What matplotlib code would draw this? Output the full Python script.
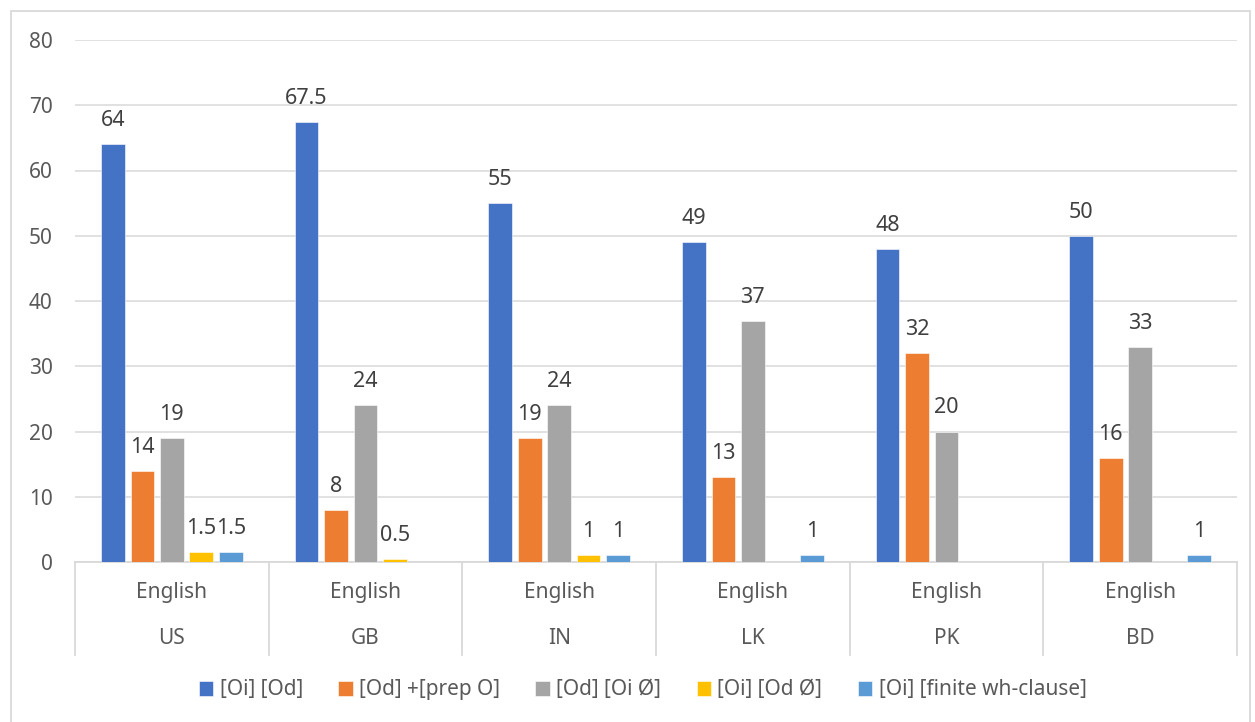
import numpy as np
import matplotlib.pyplot as plt
from matplotlib.patches import Rectangle

plt.rcParams['font.family'] = ['Noto Sans', 'DejaVu Sans']

# Data
countries = ['US', 'GB', 'IN', 'LK', 'PK', 'BD']
language = ['English'] * 6
series_names = ['[Oi] [Od]', '[Od] +[prep O]', '[Od] [Oi Ø]', '[Oi] [Od Ø]', '[Oi] [finite wh-clause]']
oi_od = [64, 67.5, 55, 49, 48, 50]
od_prep = [14, 8, 19, 13, 32, 16]
od_oi_null = [19, 24, 24, 37, 20, 33]
oi_od_null = [1.5, 0.5, 1, 0, 0, 0]
oi_wh = [1.5, 0, 1, 1, 0, 1]
colors = ['#4472C4', '#ED7D31', '#A5A5A5', '#FFC000', '#5B9BD5']

values = [oi_od, od_prep, od_oi_null, oi_od_null, oi_wh]
text_color = '#595959'
grid_color = '#D9D9D9'

fig = plt.figure(figsize=(12.55, 7.22), dpi=100)
ax = fig.add_axes([75 / 1255, 1 - 562 / 722, 1162 / 1255, 522 / 722])

x = np.arange(len(countries))
step = 0.152
width = 0.122
for i, (vals, name, col) in enumerate(zip(values, series_names, colors)):
    pos = x + (i - 2) * step
    ax.bar(pos, vals, width, color=col, label=name, zorder=3,
           edgecolor='white', linewidth=0.4)
    for p, v in zip(pos, vals):
        if v > 0:
            ax.annotate(f'{v:g}', (p, v), xytext=(0, 13), textcoords='offset points',
                        ha='center', va='baseline', fontsize=15.5, color='#404040')

ax.set_xlim(-0.5, len(countries) - 0.5)
ax.set_ylim(0, 80)
ax.set_yticks(range(0, 81, 10))
ax.tick_params(axis='y', length=0, pad=16, labelsize=15, labelcolor=text_color)
ax.set_xticks([])
ax.yaxis.grid(True, color=grid_color, linewidth=1.1, zorder=0)
for s in ['top', 'right', 'left']:
    ax.spines[s].set_visible(False)
ax.spines['bottom'].set_color(grid_color)
ax.spines['bottom'].set_linewidth(1.3)

# two-level category axis
trans = ax.get_xaxis_transform()
for b in np.arange(-0.5, len(countries), 1):
    ax.plot([b, b], [0, -0.178], transform=trans, color=grid_color,
            linewidth=1.3, clip_on=False)
for xi, lang, c in zip(x, language, countries):
    ax.text(xi, -0.059, lang, transform=trans, ha='center', va='center',
            fontsize=15, color=text_color)
    ax.text(xi, -0.1456, c, transform=trans, ha='center', va='center',
            fontsize=15, color=text_color)

fig.legend(loc='center', bbox_to_anchor=(0.512, 1 - 690 / 722), ncol=5,
           frameon=False, fontsize=15, labelcolor=text_color,
           handlelength=0.7, handleheight=0.7, handletextpad=0.3,
           columnspacing=1.7)

# chart border
fig.patches.append(Rectangle((11 / 1255, -0.01), 1239 / 1255, 1 - 11 / 722 + 0.01,
                             transform=fig.transFigure, fill=False,
                             edgecolor=grid_color, linewidth=1.3))

fig.savefig('out.png', dpi=100)
